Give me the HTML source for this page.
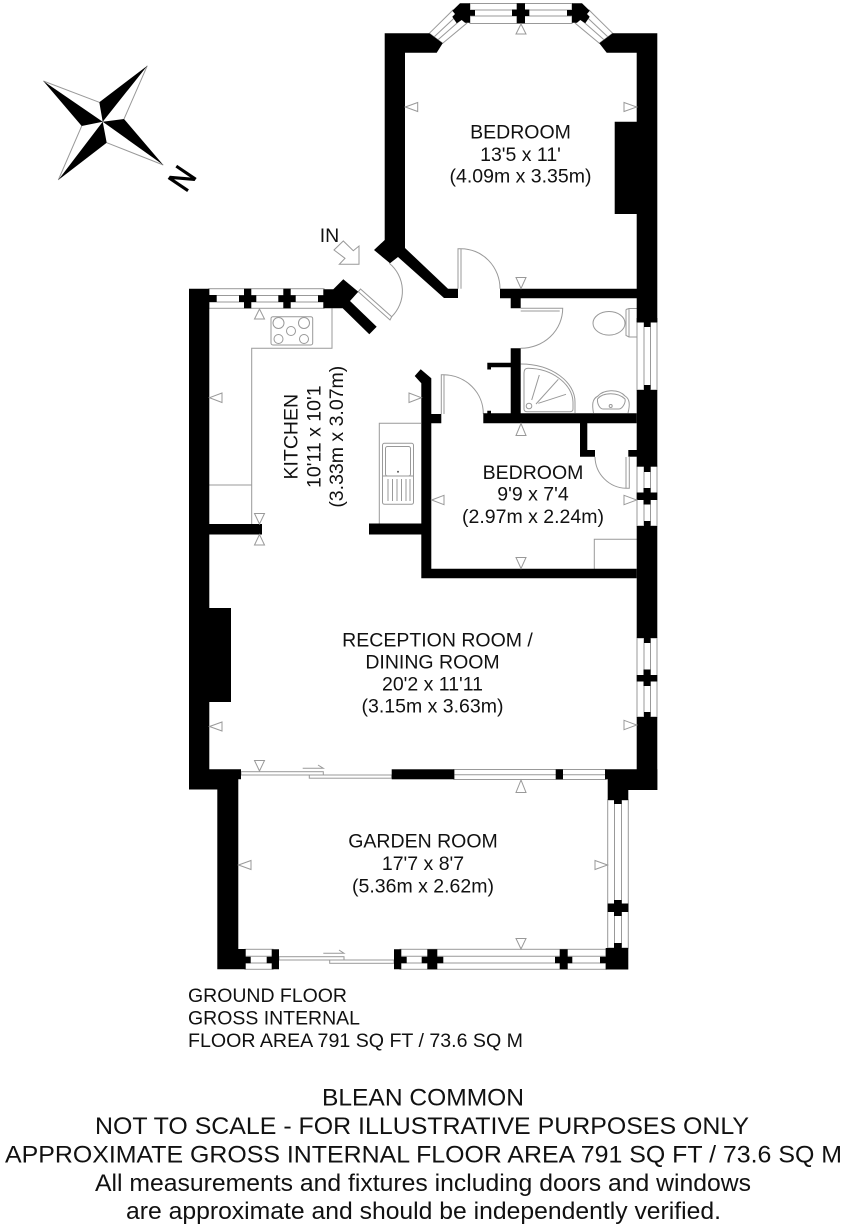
<!DOCTYPE html>
<html><head><meta charset="utf-8"><style>
html,body{margin:0;padding:0;background:#fff}
svg{display:block}
text{font-family:"Liberation Sans",Arial,sans-serif;fill:#111;font-size:19.5px;text-anchor:middle}
.w{fill:#fff;stroke:#999;stroke-width:1}
.l{stroke:#999;stroke-width:1;fill:none}
.t{fill:#fff;stroke:#999;stroke-width:1}
.b{fill:#000}
</style></head><body>
<svg width="848" height="1232" viewBox="0 0 848 1232" xmlns="http://www.w3.org/2000/svg">
<rect width="848" height="1232" fill="#fff"/>

<!-- compass -->
<g>
<path class="l" d="M43.3 81L99.3 102.3M147.3 65.7L124 119M163.3 165L106.7 142.7M58.3 180L81.7 126"/>
<path class="b" d="M43.3 81L102.7 121.7L81.7 126ZM147.3 65.7L102.7 121.7L99.3 102.3ZM163.3 165L102.7 121.7L124 119ZM58.3 180L102.7 121.7L106.7 142.7Z"/>
<text transform="translate(182.2 178.5) rotate(124)" y="11.4" style="font-size:33px;fill:#000;stroke:#000;stroke-width:0.8" textLength="21" lengthAdjust="spacingAndGlyphs">N</text>
</g>

<!-- counters / fixtures -->
<path class="l" d="M332 308.3V348.3H251.7V524M209 485H251.7M379.3 524V423.3H421M594.3 569V539.3H637"/>
<rect class="l" x="271" y="316.7" width="41.7" height="28.3" rx="2"/>
<circle class="l" cx="278.5" cy="323" r="5.5"/><circle class="l" cx="304" cy="323" r="5.5"/>
<circle class="l" cx="278.5" cy="339" r="4.5"/><circle class="l" cx="304" cy="339" r="4.5"/><circle class="l" cx="291" cy="331" r="4.5"/>
<rect class="l" x="382.5" y="443.3" width="31" height="61" rx="2"/>
<rect class="l" x="385.5" y="446.5" width="25" height="29.5" rx="2"/>
<path class="l" d="M382.5 476H413.5M388 479V501M392.5 479V501M397 479V501M401.5 479V501M406 479V501M410 479V501"/>
<circle cx="398" cy="471.7" r="1" fill="#555"/>
<!-- toilet -->
<ellipse class="l" cx="609" cy="323.3" rx="16" ry="11.8"/>
<path class="l" d="M626 309.5L629 308.5H637M626 309.5V335.5L629 337H637M629 308.5V337"/>
<!-- shower -->
<path class="l" d="M520.7 364C552 364 575 382 575 402V413M524 373C524 370 525 368.3 528 368.3C552 368.5 572.5 384 573 402V409C573 411 572 411.7 570 411.7H527C525 411.7 524 410.5 524 409Z"/>
<circle class="l" cx="529" cy="406" r="2.8"/>
<path class="l" d="M531.7 400L539.3 375M536 404L558.3 379.3M538.3 403.3L566 394.3"/>
<!-- basin -->
<path class="l" d="M593.5 413C592 405 592 399 598 396C603 390 618 388 625 396C630 399 630 405 628 413M597.5 399C603 392 618 392 625 399C626 403 622 409 619 409H603C600 409 597 404 597.5 399Z"/>
<circle class="l" cx="610.7" cy="406" r="1.5"/>

<!-- windows -->
<rect class="w" x="470" y="3.5" width="102" height="20"/>
<path class="l" d="M470 10H572M470 16H572"/>
<path class="w" d="M429.3 33.3L453 10L466.7 23.3L442.7 43.3Z"/>
<path class="l" d="M434 37L458 14.5M438 39.8L462 18.8"/>
<path class="w" d="M612.7 33.3L589 10L575.3 23.3L599.3 43.3Z"/>
<path class="l" d="M608 37L584 14.5M604 39.8L580 18.8"/>

<rect class="w" x="209" y="288.7" width="115" height="19.6"/>
<path class="l" d="M209 295.5H324M209 302H324"/>

<rect class="w" x="637" y="322" width="20" height="68"/>
<path class="l" d="M644 322V390M650.5 322V390"/>
<rect class="w" x="637" y="466" width="20" height="60"/>
<path class="l" d="M644 466V526M650.5 466V526"/>
<rect class="w" x="637" y="638" width="20" height="79"/>
<path class="l" d="M644 638V717M650.5 638V717"/>

<rect class="w" x="454" y="769.5" width="152" height="10"/>
<path class="l" d="M454 774.7H606"/>
<rect class="w" x="607.7" y="800" width="20.6" height="148"/>
<path class="l" d="M614.5 800V948M621.5 800V948"/>
<rect class="w" x="245" y="949.3" width="28" height="20"/>
<path class="l" d="M245 956.3H273M245 963H273"/>
<rect class="w" x="400" y="949.3" width="206" height="20"/>
<path class="l" d="M400 956.3H606M400 963H606"/>

<!-- sliding doors -->
<rect class="w" x="241" y="771.7" width="82.3" height="3.3"/>
<rect class="w" x="309.3" y="775" width="82.5" height="3.2"/>
<path class="l" d="M302.7 768.3H323.3L318 765"/>
<rect class="w" x="279" y="956.7" width="65" height="3.3"/>
<rect class="w" x="329.7" y="960" width="64.3" height="3.3"/>
<path class="l" d="M323.3 953.3H344L339 950"/>

<!-- doors -->
<path class="l" d="M458 288.7V248.7H461A39 40 0 0 1 500 288.7"/>
<path class="l" d="M461 248.7V288.7"/>
<path class="l" d="M389.3 263.3A36 36 0 0 1 391.7 316.7"/>
<path class="t" d="M358.3 291.7L360.5 289L391.7 316.7L390 320Z"/>
<path class="l" d="M520.7 308.3H562.7A42 40 0 0 1 520.7 348.3M520.7 311H559.7"/>
<path class="l" d="M441.3 414V374.7H444A40 39 0 0 1 483.3 414M444 374.7V414"/>
<path class="l" d="M595 457A32 32 0 0 0 626 488.3H629.3V457M626 457V488.3"/>

<!-- walls -->
<g class="b">
<!-- top bedroom -->
<path d="M384.7 33.3H429.3L442.7 43.3L436.7 52.7H405V248L448 288.7H458V298H444L398 257L390 263.3L374 250L384.7 240Z"/>
<path d="M657.3 33.3H612.7L599.3 43.3L606.7 52.7H636.7V121.7H614.7V214H636.7V288.7H500V298.3H510.7V308.3H520.7V298.3H636.7V322H657.3Z"/>
<path d="M460 3.3H470V10H475V15.7H470V22.7H465L461.7 20L456.7 23.3L452.3 16.7L455 14L452.3 10.7Z"/>
<path d="M582 3.3H572V10H567V15.7H572V22.7H577L580.3 20L585.3 23.3L589.7 16.7L587 14L589.7 10.7Z"/>
<path d="M516.7 3.3H525V9.5H529.3V16H525V23.3H516.7V16H512V9.5H516.7Z"/>
<!-- right wall -->
<rect x="636.7" y="318" width="20.6" height="4.5"/>
<rect x="644" y="322" width="6.5" height="5"/>
<rect x="644" y="385" width="6.5" height="6"/>
<rect x="636.7" y="390" width="20.6" height="76.7"/>
<rect x="644" y="466" width="6.5" height="6"/>
<path d="M643.5 488H650.5V492.5H657.3V500H650.5V504.5H643.5V500H636.7V492.5H643.5Z"/>
<rect x="644" y="521" width="6.5" height="6"/>
<rect x="636.7" y="526" width="20.6" height="112"/>
<rect x="644" y="638" width="6.5" height="5"/>
<path d="M643.5 669.5H650.5V675H657.3V681.5H650.5V686H643.5V681.5H636.7V675H643.5Z"/>
<rect x="644" y="712" width="6.5" height="6"/>
<rect x="636.7" y="717" width="20.6" height="73"/>
<!-- kitchen wall/door stubs -->
<path d="M189 288.7H209.3V295H216.7V302H209.3V308.3H209.3V524H262V534.5H209.3V608H231V702H209.3V769.3H241V779.3H238.3V949H245.7V956.7H250.7V963.3H245.7V969.3H217.3V789.5H189Z"/>
<path d="M244 288.7H251.3V295.3H256.3V302H251.3V308.3H244V302H239V295.3H244Z"/>
<path d="M283.3 288.7H290.7V295.3H295.7V302H290.7V308.3H283.3V302H278.3V295.3H283.3Z"/>
<path d="M323.3 289.3H333.3L343.3 279.3L358.3 291.7L350 301L376.7 326.7L369.3 334.3L342.7 308.3H323.3V302H318V295.3H323.3Z"/>
<!-- interior -->
<path d="M414.7 376L420.7 369.3L431.3 378.3V414H441.3V423.3H431.3V568.7H636.7V578.3H421.3V534.5H369V523.5H421.3V383.3Z"/>
<path d="M483.3 413.3H487.3V410.7H491V413.3H510.7V367.3H491V369.5H487.3V362.7H510.7V348.3H520.7V413.3H636.7V423.3H587.3V450H595V456.7H580V423.3H483.3Z"/>
<rect x="628.3" y="450" width="9" height="6.7"/>
<!-- garden -->
<rect x="391.7" y="769.3" width="62.6" height="10"/>
<rect x="555.7" y="769.3" width="7.3" height="10"/>
<path d="M605 769.3H657.3V790H628.3V800H621.7V804H614V800H607.7V779.3H605Z"/>
<path d="M614 900H621.7V903.5H628.3V912H621.7V916H614V912H607.7V903.5H614Z"/>
<path d="M614 943H621.7V948H628.3V969.5H605.7V963.3H600V956.7H605.7V948H614Z"/>
<path d="M271.7 949.3H279V969.3H271.7V963.3H266.7V956.7H271.7Z"/>
<path d="M394 949.3H401.3V956.7H406.7V963.3H401.3V969.3H394Z"/>
<path d="M427.3 949.3H437.3V956.7H443.3V963.3H437.3V969.3H427.3V963.3H421.7V956.7H427.3Z"/>
<path d="M559.7 949.3H567.7V956.7H572.3V963.3H567.7V969.3H559.7V963.3H555V956.7H559.7Z"/>
</g>

<!-- measure triangles -->
<g class="t">
<path d="M521 24L516 34H526Z"/>
<path d="M405.3 107L417.7 102.5V111.5Z"/>
<path d="M636.7 107L624 102.5V111.5Z"/>
<path d="M521 288.5L516 277.5H526Z"/>
<path d="M259.5 309L254.5 319H264.5Z"/>
<path d="M209.5 397.7L222 393V402.5Z"/>
<path d="M421.3 397.7L409 393V402.5Z"/>
<path d="M259.5 524L254.5 513.5H264.5Z"/>
<path d="M259.5 534.5L254.5 545H264.5Z"/>
<path d="M431.7 500L444 495.3V504.7Z"/>
<path d="M636.7 500L624 495.3V504.7Z"/>
<path d="M521 423.5L516 435.5H526Z"/>
<path d="M521 568.5L516 557.5H526Z"/>
<path d="M209.5 726.5L222 722V731Z"/>
<path d="M636.7 725L624 720.3V729.7Z"/>
<path d="M259.5 771L254.5 760.5H264.5Z"/>
<path d="M521 780L516 792.5H526Z"/>
<path d="M238.5 865L251 860.5V869.5Z"/>
<path d="M607.5 865L595 860.5V869.5Z"/>
<path d="M521 949L516 938.5H526Z"/>
</g>

<!-- IN arrow -->
<text x="329.5" y="242">IN</text>
<path class="t" d="M359 246V264.3H339.3L345 258.3L334 250L343.3 241L353.3 250.7Z"/>

<!-- room labels -->
<text x="520.5" y="138.7">BEDROOM</text>
<text x="520.5" y="161">13'5 x 11'</text>
<text x="520.5" y="182.7">(4.09m x 3.35m)</text>

<g transform="translate(297.5 436.7) rotate(-90)"><text>KITCHEN</text></g>
<g transform="translate(320.5 436.7) rotate(-90)"><text>10'11 x 10'1</text></g>
<g transform="translate(343 436.7) rotate(-90)"><text>(3.33m x 3.07m)</text></g>

<text x="533" y="479">BEDROOM</text>
<text x="533" y="500.7">9'9 x 7'4</text>
<text x="533" y="523">(2.97m x 2.24m)</text>

<text x="437.5" y="646.5">RECEPTION ROOM /</text>
<text x="432.5" y="668.5">DINING ROOM</text>
<text x="432.5" y="690.5">20'2 x 11'11</text>
<text x="432.5" y="712.5">(3.15m x 3.63m)</text>

<text x="423" y="847.3">GARDEN ROOM</text>
<text x="423" y="870">17'7 x 8'7</text>
<text x="423" y="892.7">(5.36m x 2.62m)</text>

<!-- footer -->
<text x="188" y="1002" style="text-anchor:start;font-size:19.8px" textLength="159" lengthAdjust="spacingAndGlyphs">GROUND FLOOR</text>
<text x="188" y="1024.5" style="text-anchor:start;font-size:19.8px" textLength="172" lengthAdjust="spacingAndGlyphs">GROSS INTERNAL</text>
<text x="188" y="1047" style="text-anchor:start;font-size:19.8px" textLength="335" lengthAdjust="spacingAndGlyphs">FLOOR AREA 791 SQ FT / 73.6 SQ M</text>

<text x="423" y="1105.5" style="font-size:24.5px" textLength="202" lengthAdjust="spacingAndGlyphs">BLEAN COMMON</text>
<text x="422" y="1134" style="font-size:24.5px" textLength="654" lengthAdjust="spacingAndGlyphs">NOT TO SCALE - FOR ILLUSTRATIVE PURPOSES ONLY</text>
<text x="423.5" y="1162.5" style="font-size:24.5px" textLength="837" lengthAdjust="spacingAndGlyphs">APPROXIMATE GROSS INTERNAL FLOOR AREA 791 SQ FT / 73.6 SQ M</text>
<text x="423" y="1191" style="font-size:24.5px" textLength="656" lengthAdjust="spacingAndGlyphs">All measurements and fixtures including doors and windows</text>
<text x="423.5" y="1219" style="font-size:24.5px" textLength="595" lengthAdjust="spacingAndGlyphs">are approximate and should be independently verified.</text>
</svg>
</body></html>
